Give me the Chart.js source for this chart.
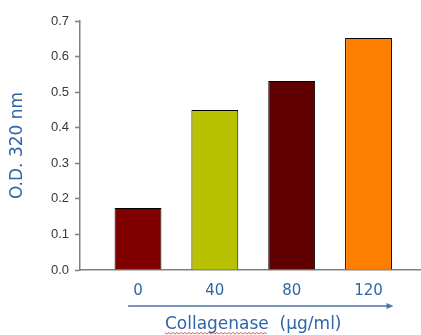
<!DOCTYPE html>
<html>
<head>
<meta charset="utf-8">
<script src="https://cdn.jsdelivr.net/npm/chart.js@4"></script>
<style>
  html, body { margin: 0; padding: 0; background: #fff; }
  #wrap { width: 421px; height: 335px; }
</style>
</head>
<body>
<div id="wrap"><canvas id="odChart"></canvas></div>
<script>
// chart data
var doses = ['0', '40', '80', '120'];
var odValues = [0.174, 0.45, 0.531, 0.652];
var barColors = ['#800000', '#b9c200', '#600000', '#ff8000'];
var yTicks = [0, 0.1, 0.2, 0.3, 0.4, 0.5, 0.6, 0.7];

var blue = '#3065a6';

// arrow under the dose labels + spell-check squiggle under the title
var extras = {
  id: 'extras',
  afterDraw: function(chart) {
    var ctx = chart.ctx;
    var xs = chart.scales.x;
    var y = chart.chartArea.bottom + 36;
    var x0 = xs.getPixelForValue(0) - 10;
    var x1 = xs.getPixelForValue(doses.length - 1) + 25;
    ctx.save();
    ctx.strokeStyle = '#4a76a8';
    ctx.fillStyle = '#4a76a8';
    ctx.lineWidth = 1.5;
    ctx.beginPath();
    ctx.moveTo(x0, y);
    ctx.lineTo(x1 - 5, y);
    ctx.stroke();
    ctx.beginPath();
    ctx.moveTo(x1, y);
    ctx.lineTo(x1 - 7, y - 3);
    ctx.lineTo(x1 - 7, y + 3);
    ctx.closePath();
    ctx.fill();

    // red wavy underline
    var t = xs.options.title;
    ctx.font = t.font.size + 'px ' + t.font.family;
    var full = ctx.measureText(t.text).width;
    var word = ctx.measureText('Collagenase').width;
    var sx = (xs.left + xs.right) / 2 - full / 2 + ctx.measureText(' ').width;
    var sy = chart.height - 2.5;
    ctx.strokeStyle = '#e03030';
    ctx.lineWidth = 0.8;
    ctx.beginPath();
    for (var i = 0; i <= word; i += 2) {
      var yy = sy + ((i / 2) % 2 === 0 ? 0 : 1.5);
      if (i === 0) ctx.moveTo(sx + i, yy); else ctx.lineTo(sx + i, yy);
    }
    ctx.stroke();
    ctx.restore();
  }
};

new Chart(document.getElementById('odChart'), {
  type: 'bar',
  data: {
    datasets: [{
      data: odValues.map(function(v, i) { return { x: i, y: v }; }),
      backgroundColor: barColors,
      borderColor: '#000000',
      borderWidth: 1,
      barPercentage: 0.61,
      categoryPercentage: 1
    }]
  },
  options: {
    responsive: true,
    maintainAspectRatio: false,
    animation: false,
    layout: { padding: { top: 21, right: 0, bottom: 0, left: 0 } },
    plugins: { legend: { display: false }, tooltip: { enabled: false } },
    scales: {
      x: {
        type: 'linear',
        offset: false,
        min: -0.755,
        max: 3.683,
        afterBuildTicks: function(scale) {
          scale.ticks = doses.map(function(d, i) { return { value: i }; });
        },
        afterFit: function(scale) { scale.height = 65; },
        grid: { display: false, drawTicks: false },
        border: { display: true, color: '#808080', width: 1.5 },
        ticks: {
          padding: 12,
          color: blue,
          font: { family: 'DejaVu Sans', size: 15 },
          maxRotation: 0,
          autoSkip: false,
          callback: function(v) { return doses[v]; }
        },
        title: {
          display: true,
          text: ' Collagenase  (\u00b5g/ml)',
          color: blue,
          font: { family: 'DejaVu Sans', size: 17 },
          padding: { top: 0, bottom: 0 }
        }
      },
      y: {
        min: 0,
        max: 0.7,
        afterBuildTicks: function(scale) {
          scale.ticks = yTicks.map(function(v) { return { value: v }; });
        },
        afterFit: function(scale) { scale.width = 80; },
        grid: { display: true, drawOnChartArea: false, drawTicks: true, tickLength: 5, tickColor: '#808080', tickWidth: 1.5 },
        border: { display: true, color: '#808080', width: 1.5 },
        ticks: {
          padding: 6,
          color: '#383838',
          font: { family: 'Liberation Sans', size: 13 },
          callback: function(v) { return v.toFixed(1); }
        },
        title: {
          display: true,
          text: 'O.D. 320 nm',
          color: blue,
          font: { family: 'DejaVu Sans', size: 17 },
          padding: { top: 7, bottom: 0 }
        }
      }
    }
  },
  plugins: [extras]
});
</script>
</body>
</html>
